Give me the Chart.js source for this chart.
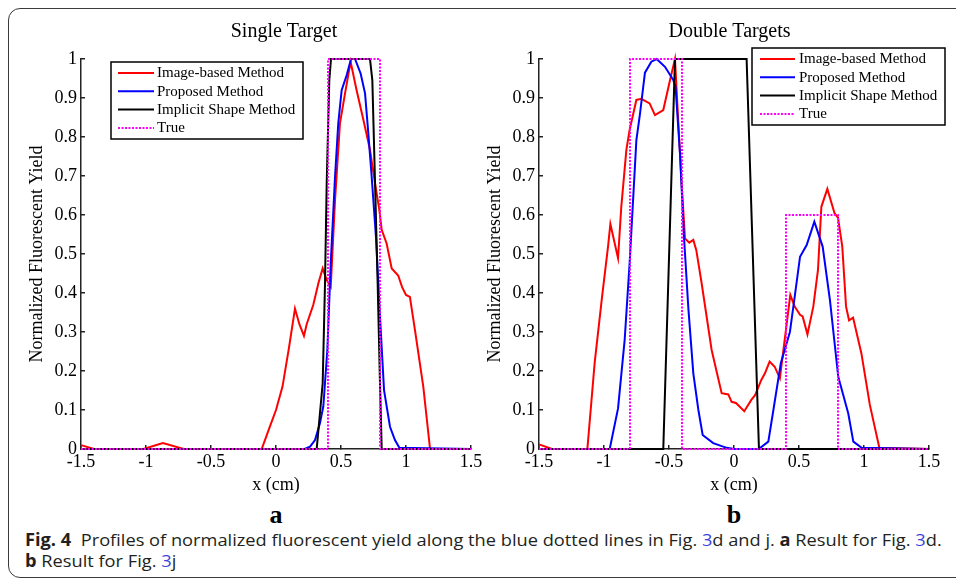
<!DOCTYPE html>
<html><head><meta charset="utf-8">
<script src="https://cdn.jsdelivr.net/npm/chart.js@4.4.1/dist/chart.umd.min.js"></script>
<style>
html,body{margin:0;padding:0;background:#fff;width:956px;height:588px;overflow:hidden;position:relative}
#frame{position:absolute;left:8px;top:8px;width:990px;height:570px;border:1.5px solid #3a3a3a;border-radius:12px;box-sizing:border-box}
canvas{position:absolute;top:0}
#c1{left:0}
#c2{left:458px}
.lab{position:absolute;font-family:"Liberation Serif",serif;font-weight:bold;font-size:26px;line-height:26px;top:502px;width:40px;margin-left:-20px;text-align:center;color:#000}
.cap{position:absolute;left:25px;font-family:"Open Sans",sans-serif;font-size:17px;line-height:21px;color:#231f20;transform-origin:0 0;white-space:nowrap;display:inline-block}
.cap b{font-weight:700}
.lnk{color:#3b44d8}
</style></head>
<body>
<div id="frame"></div>
<canvas id="c1" width="491" height="500"></canvas>
<canvas id="c2" width="491" height="500"></canvas>
<div class="lab" style="left:276px">a</div>
<div class="lab" style="left:734px">b</div>
<div class="cap" id="cap1" style="top:529px"><b>Fig. 4</b>&nbsp; Profiles of normalized fluorescent yield along the blue dotted lines in Fig. <span class="lnk">3</span>d and j. <b>a</b> Result for Fig. <span class="lnk">3</span>d.</div>
<div class="cap" id="cap2" style="top:550px"><b>b</b> Result for Fig. <span class="lnk">3</span>j</div>
<script>
// ---- Data ----
const xTickValues = [-1.5, -1, -0.5, 0, 0.5, 1, 1.5];
const xTickLabels = ['-1.5', '-1', '-0.5', '0', '0.5', '1', '1.5'];
const yTickValues = [0, 0.1, 0.2, 0.3, 0.4, 0.5, 0.6, 0.7, 0.8, 0.9, 1];
const yTickLabels = ['0', '0.1', '0.2', '0.3', '0.4', '0.5', '0.6', '0.7', '0.8', '0.9', '1'];
const seriesNames = ['Image-based Method', 'Proposed Method', 'Implicit Shape Method', 'True'];
const seriesColors = ['#ff0000', '#0000ff', '#000000', '#ff00ff'];

// Single target: [x, y]
const singleImageBased = [[-1.5,0.01],[-1.4,0],[-1.02,0],[-0.87,0.015],[-0.71,0],[-0.11,0],[-0.05,0.055],[0.0,0.1],[0.05,0.16],[0.1,0.26],[0.146,0.36],[0.18,0.32],[0.215,0.29],[0.236,0.32],[0.287,0.37],[0.326,0.425],[0.359,0.463],[0.39,0.433],[0.421,0.416],[0.454,0.638],[0.492,0.835],[0.531,0.912],[0.574,0.993],[0.62,0.92],[0.672,0.844],[0.723,0.767],[0.762,0.681],[0.795,0.613],[0.813,0.562],[0.851,0.527],[0.89,0.463],[0.94,0.445],[0.97,0.415],[1.0,0.395],[1.03,0.39],[1.069,0.305],[1.133,0.16],[1.185,0],[1.5,0]];
const singleProposed = [[-1.5,0],[0.22,0],[0.262,0.006],[0.3,0.023],[0.338,0.066],[0.364,0.109],[0.395,0.254],[0.421,0.476],[0.454,0.698],[0.479,0.835],[0.505,0.92],[0.544,0.959],[0.577,1.0],[0.608,1.0],[0.651,0.963],[0.685,0.912],[0.71,0.81],[0.736,0.698],[0.769,0.544],[0.8,0.339],[0.831,0.151],[0.877,0.057],[0.915,0.023],[0.949,0.003],[1.5,0]];
const singleImplicit = [[-1.5,0],[0.313,0],[0.359,0.168],[0.377,0.425],[0.39,0.681],[0.41,0.946],[0.423,1],[0.723,1],[0.741,0.946],[0.762,0.681],[0.782,0.425],[0.8,0.168],[0.813,0],[1.5,0]];
const singleTrue = [[-1.5,0],[0.4,0],[0.4,1],[0.8,1],[0.8,0],[1.5,0]];

// Double targets: [x, y]
const doubleImageBased = [[-1.5,0.012],[-1.4,0],[-1.128,0],[-1.072,0.22],[-1.015,0.39],[-0.969,0.519],[-0.951,0.577],[-0.892,0.489],[-0.867,0.621],[-0.828,0.767],[-0.803,0.818],[-0.751,0.895],[-0.713,0.898],[-0.649,0.886],[-0.608,0.856],[-0.544,0.869],[-0.492,0.946],[-0.454,1.0],[-0.428,0.835],[-0.403,0.681],[-0.377,0.54],[-0.344,0.529],[-0.313,0.536],[-0.29,0.51],[-0.249,0.425],[-0.172,0.254],[-0.095,0.143],[-0.044,0.14],[-0.018,0.121],[0.015,0.118],[0.079,0.097],[0.133,0.126],[0.162,0.138],[0.21,0.177],[0.238,0.194],[0.274,0.224],[0.313,0.211],[0.353,0.181],[0.433,0.395],[0.467,0.365],[0.508,0.344],[0.528,0.34],[0.565,0.294],[0.61,0.365],[0.646,0.459],[0.672,0.621],[0.718,0.667],[0.774,0.604],[0.8,0.593],[0.833,0.519],[0.862,0.365],[0.885,0.33],[0.916,0.337],[0.98,0.245],[1.045,0.113],[1.118,0.003],[1.5,0]];
const doubleProposed = [[-1.5,0],[-0.956,0],[-0.892,0.104],[-0.841,0.28],[-0.803,0.476],[-0.751,0.792],[-0.723,0.86],[-0.685,0.965],[-0.636,0.993],[-0.595,1.0],[-0.531,0.98],[-0.467,0.946],[-0.45,0.93],[-0.415,0.755],[-0.385,0.545],[-0.351,0.36],[-0.313,0.194],[-0.274,0.1],[-0.241,0.036],[-0.16,0.015],[-0.056,0.003],[0,0],[0.19,0],[0.264,0.019],[0.303,0.1],[0.36,0.22],[0.43,0.3],[0.467,0.391],[0.508,0.493],[0.559,0.523],[0.618,0.583],[0.682,0.519],[0.738,0.382],[0.802,0.185],[0.879,0.091],[0.918,0.019],[0.982,0.003],[1.5,0]];
const doubleImplicit = [[-1.5,0],[-0.544,0],[-0.454,1],[0.097,1],[0.192,0],[1.5,0]];
const doubleTrue = [[-1.5,0],[-0.8,0],[-0.8,1],[-0.4,1],[-0.4,0],[0.4,0],[0.4,0.6],[0.8,0.6],[0.8,0],[1.5,0]];

const serif = '"Liberation Serif", "Times New Roman", serif';

const boxLegend = {
  id: 'boxLegend',
  afterDraw(chart, args, o) {
    const ctx = chart.ctx;
    ctx.save();
    ctx.fillStyle = '#fff';
    ctx.fillRect(o.x, o.y, o.w, o.h);
    ctx.strokeStyle = '#000'; ctx.lineWidth = 1.5;
    ctx.strokeRect(o.x, o.y, o.w, o.h);
    ctx.font = '15px ' + serif;
    ctx.textBaseline = 'middle'; ctx.textAlign = 'left';
    chart.data.datasets.forEach((ds, i) => {
      const y = o.y + o.firstRow + i * o.rowGap;
      ctx.strokeStyle = ds.borderColor; ctx.lineWidth = 2;
      ctx.setLineDash(ds.borderDash || []);
      ctx.beginPath(); ctx.moveTo(o.x + o.lineStart, y); ctx.lineTo(o.x + o.lineEnd, y); ctx.stroke();
      ctx.setLineDash([]);
      ctx.fillStyle = '#000';
      ctx.fillText(ds.label, o.x + o.textStart, y + 0.5);
    });
    ctx.restore();
  }
};

const topTitle = {
  id: 'topTitle',
  afterDraw(chart, args, o) {
    const ctx = chart.ctx;
    ctx.save();
    ctx.font = '20px ' + serif;
    ctx.fillStyle = '#000'; ctx.textAlign = 'center'; ctx.textBaseline = 'middle';
    ctx.fillText(o.text, o.x, o.y);
    ctx.restore();
  }
};

function makeChart(id, title, titleX, series, legend) {
  const datasets = series.map((d, i) => ({
    label: seriesNames[i],
    data: d.map(p => ({x: p[0], y: p[1]})),
    borderColor: seriesColors[i],
    backgroundColor: seriesColors[i],
    borderWidth: 2,
    borderDash: i === 3 ? [2, 1.5] : [],
    showLine: true, pointRadius: 0, pointHoverRadius: 0, fill: false, tension: 0,
    clip: false,
    order: 3 - i
  }));
  return new Chart(document.getElementById(id), {
    type: 'scatter',
    data: {datasets},
    plugins: [boxLegend, topTitle],
    options: {
      responsive: false, animation: false, devicePixelRatio: 1,
      layout: {padding: {top: 59, left: 0, right: 20, bottom: 0}},
      plugins: {
        legend: {display: false}, title: {display: false}, tooltip: {enabled: false},
        boxLegend: legend,
        topTitle: {text: title, x: titleX, y: 32}
      },
      scales: {
        x: {
          type: 'linear', position: 'bottom', min: -1.5, max: 1.5,
          afterBuildTicks: s => { s.ticks = xTickValues.map(v => ({value: v})); },
          afterFit: s => { s.height = 51; },
          ticks: {callback: (v, i) => xTickLabels[i], font: {family: serif, size: 18}, color: '#000', padding: 6, maxRotation: 0, autoSkip: false},
          grid: {display: true, drawOnChartArea: false, drawTicks: true, tickLength: -4, color: '#222', lineWidth: 1.5},
          border: {display: true, color: '#222', width: 1.5},
          title: {display: true, text: 'x (cm)', font: {family: serif, size: 18}, color: '#000', padding: {top: 0, bottom: 4}}
        },
        y: {
          type: 'linear', position: 'left', min: 0, max: 1,
          afterBuildTicks: s => { s.ticks = yTickValues.map(v => ({value: v})); },
          afterFit: s => { s.width = 81; },
          ticks: {callback: (v, i) => yTickLabels[i], font: {family: serif, size: 18}, color: '#000', padding: 8, autoSkip: false},
          grid: {display: true, drawOnChartArea: false, drawTicks: true, tickLength: -4, color: '#222', lineWidth: 1.5},
          border: {display: true, color: '#222', width: 1.5},
          title: {display: true, text: 'Normalized Fluorescent Yield', font: {family: serif, size: 18}, color: '#000', padding: {top: 26, bottom: 0}}
        }
      }
    }
  });
}

makeChart('c1', 'Single Target', 284, [singleImageBased, singleProposed, singleImplicit, singleTrue],
  {x: 111, y: 62, w: 192, h: 77, firstRow: 11, rowGap: 18.3, lineStart: 7, lineEnd: 43, textStart: 46});
makeChart('c2', 'Double Targets', 271.5, [doubleImageBased, doubleProposed, doubleImplicit, doubleTrue],
  {x: 294, y: 48, w: 193, h: 77, firstRow: 11, rowGap: 18.3, lineStart: 8, lineEnd: 43, textStart: 47});

function fitCaption() {
  const c1 = document.getElementById('cap1'), c2 = document.getElementById('cap2');
  c1.style.transform = 'none'; c2.style.transform = 'none';
  const s = 917 / c1.offsetWidth;
  c1.style.transform = 'scaleX(' + s + ')';
  c2.style.transform = 'scaleX(' + s + ')';
}
fitCaption();
if (document.fonts && document.fonts.ready) document.fonts.ready.then(fitCaption);
</script>
</body></html>
